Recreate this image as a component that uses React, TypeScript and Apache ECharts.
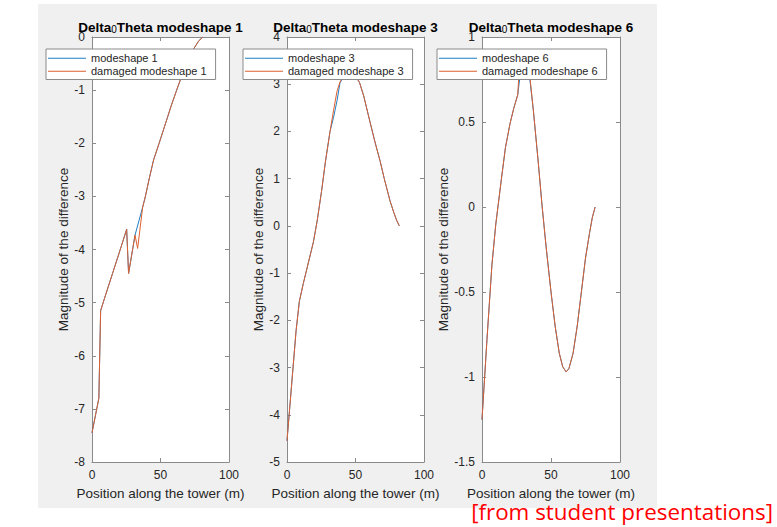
import React, { useEffect, useRef } from "react";
import * as echarts from "echarts";

// Panel 1: mode shape 1 difference
const ms1X = [0, 5, 6.3, 10, 15, 20, 25.3, 26.7, 31.4, 37, 38.7, 42, 45, 49, 52, 55, 58, 61.8, 65, 68.6, 72, 75, 78, 81];
const ms1Y = [-7.45, -6.8, -5.15, -4.85, -4.45, -4.05, -3.62, -4.45, -3.73, -3.2, -3.03, -2.64, -2.31, -2.0, -1.76, -1.52, -1.28, -1.0, -0.77, -0.52, -0.33, -0.19, -0.07, 0];
const dm1X = [0, 5, 6.3, 10, 15, 20, 25.3, 26.7, 31.4, 33.3, 37, 38.7, 42, 45, 49, 52, 55, 58, 61.8, 65, 68.6, 72, 75, 78, 81];
const dm1Y = [-7.45, -6.8, -5.15, -4.85, -4.45, -4.05, -3.62, -4.45, -3.73, -3.98, -3.2, -3.03, -2.64, -2.31, -2.0, -1.76, -1.52, -1.28, -1.0, -0.77, -0.52, -0.33, -0.19, -0.07, 0];

// Panel 2: mode shape 3 difference
const ms3X = [0, 6.6, 9, 11.9, 15, 19.2, 22, 25.3, 28, 31.4, 34, 36.5, 38.7, 42, 46, 50, 53, 56, 60.6, 64, 67.9, 71, 75.2, 78, 80, 82];
const ms3Y = [-4.55, -2.23, -1.6, -1.22, -0.85, -0.35, 0.1, 0.75, 1.35, 2.0, 2.3, 2.65, 3.03, 3.2, 3.27, 3.18, 3.03, 2.75, 2.2, 1.8, 1.38, 1.0, 0.53, 0.28, 0.12, 0.0];
const dm3X = [0, 6.6, 9, 11.9, 15, 19.2, 22, 25.3, 28, 31.4, 34, 36.5, 38.7, 42, 46, 50, 53, 56, 60.6, 64, 67.9, 71, 75.2, 78, 80, 82];
const dm3Y = [-4.55, -2.23, -1.6, -1.22, -0.85, -0.35, 0.1, 0.75, 1.35, 2.0, 2.45, 2.85, 3.05, 3.2, 3.27, 3.18, 3.03, 2.75, 2.2, 1.8, 1.38, 1.0, 0.53, 0.28, 0.12, 0.0];

// Panel 3: mode shape 6 difference
const ms6X = [0, 3.6, 7.2, 10, 14.3, 17, 20.3, 23, 25.9, 28, 30, 32, 34, 37.2, 40.8, 43.5, 46.4, 50, 53, 56, 58.5, 61, 63, 66, 69, 72, 75, 78, 80, 82];
const ms6Y = [-1.25, -0.78, -0.34, -0.1, 0.18, 0.35, 0.49, 0.58, 0.66, 0.8, 0.88, 0.88, 0.8, 0.57, 0.26, 0.01, -0.23, -0.5, -0.7, -0.86, -0.94, -0.97, -0.95, -0.86, -0.7, -0.5, -0.3, -0.15, -0.06, 0.0];
const dm6X = [0, 3.6, 7.2, 10, 14.3, 17, 20.3, 23, 25.9, 27, 30, 33, 34.5, 37.2, 40.8, 43.5, 46.4, 50, 53, 56, 58.5, 61, 63, 66, 69, 72, 75, 78, 80, 82];
const dm6Y = [-1.25, -0.78, -0.34, -0.1, 0.18, 0.35, 0.49, 0.58, 0.66, 0.82, 0.92, 0.9, 0.78, 0.57, 0.26, 0.01, -0.23, -0.5, -0.7, -0.86, -0.94, -0.97, -0.95, -0.86, -0.7, -0.5, -0.3, -0.15, -0.06, 0.0];

const modeNumbers = [1, 3, 6];
const yRanges = [
  { min: -8, max: 0, interval: 1 },
  { min: -5, max: 4, interval: 1 },
  { min: -1.5, max: 1, interval: 0.5 },
];
const xRange = { min: 0, max: 100, interval: 50 };

const xLabel = "Position along the tower (m)";
const yLabel = "Magnitude of the difference";
const note = "[from student presentations]";

const FONT = '"Liberation Sans", Helvetica, Arial, sans-serif';
const BLUE = "#1f7fc4";
const RED = "#de5f30";
const AXIS = "#8a8a8a";
const TEXT = "#262626";

const zip = (xs: number[], ys: number[]) => xs.map((x, i) => [x, ys[i]]);

const panelData = [
  { base: zip(ms1X, ms1Y), damaged: zip(dm1X, dm1Y) },
  { base: zip(ms3X, ms3Y), damaged: zip(dm3X, dm3Y) },
  { base: zip(ms6X, ms6Y), damaged: zip(dm6X, dm6Y) },
];

// layout of the three axes boxes
const gridLefts = [92, 287, 482];
const gridWidths = [137, 137, 138];
const gridTop = 37;
const gridHeight = 425;
const legendLefts = [46, 243, 437];
const yNameGaps = [21, 20, 28];

function buildOption() {
  const grid: any[] = [];
  const xAxis: any[] = [];
  const yAxis: any[] = [];
  const series: any[] = [];
  const legend: any[] = [];
  const graphic: any[] = [
    {
      type: "rect",
      z: -10,
      shape: { x: 38, y: 4, width: 619, height: 504 },
      style: { fill: "#f0f0f0" },
      silent: true,
    },
  ];

  const lineAxis = {
    show: true,
    onZero: false,
    lineStyle: { color: AXIS, width: 1 },
  };
  const tick = { show: true, inside: true, length: 4, lineStyle: { color: AXIS, width: 1 } };

  modeNumbers.forEach((m, i) => {
    grid.push({
      left: gridLefts[i],
      top: gridTop,
      width: gridWidths[i],
      height: gridHeight,
      show: true,
      backgroundColor: "#ffffff",
      borderWidth: 0,
    });
    const xr = xRange;
    const yr = yRanges[i];
    xAxis.push({
      type: "value",
      gridIndex: i,
      position: "bottom",
      min: xr.min,
      max: xr.max,
      interval: xr.interval,
      axisLine: lineAxis,
      axisTick: tick,
      splitLine: { show: false },
      axisLabel: { color: TEXT, fontSize: 12, fontFamily: FONT, margin: 7 },
      name: xLabel,
      nameLocation: "middle",
      nameGap: 24,
      nameTextStyle: { color: TEXT, fontSize: 13.5, fontFamily: FONT },
    });
    xAxis.push({
      type: "value",
      gridIndex: i,
      position: "top",
      min: xr.min,
      max: xr.max,
      interval: xr.interval,
      axisLine: lineAxis,
      axisTick: tick,
      splitLine: { show: false },
      axisLabel: { show: false },
    });
    yAxis.push({
      type: "value",
      gridIndex: i,
      position: "left",
      min: yr.min,
      max: yr.max,
      interval: yr.interval,
      axisLine: lineAxis,
      axisTick: tick,
      splitLine: { show: false },
      axisLabel: { color: TEXT, fontSize: 12, fontFamily: FONT, margin: 7 },
      name: yLabel,
      nameLocation: "middle",
      nameGap: yNameGaps[i],
      nameTextStyle: { color: TEXT, fontSize: 13.5, fontFamily: FONT },
    });
    yAxis.push({
      type: "value",
      gridIndex: i,
      position: "right",
      min: yr.min,
      max: yr.max,
      interval: yr.interval,
      axisLine: lineAxis,
      axisTick: tick,
      splitLine: { show: false },
      axisLabel: { show: false },
    });

    const baseName = `modeshape ${m}`;
    const dmgName = `damaged modeshape ${m}`;
    series.push({
      type: "line",
      name: baseName,
      xAxisIndex: 2 * i,
      yAxisIndex: 2 * i,
      data: panelData[i].base,
      symbol: "none",
      lineStyle: { color: BLUE, width: 1 },
      itemStyle: { color: BLUE },
      z: 2,
    });
    series.push({
      type: "line",
      name: dmgName,
      xAxisIndex: 2 * i,
      yAxisIndex: 2 * i,
      data: panelData[i].damaged,
      symbol: "none",
      lineStyle: { color: RED, width: 1 },
      itemStyle: { color: RED },
      z: 3,
    });

    legend.push({
      data: [baseName, dmgName],
      orient: "vertical",
      left: legendLefts[i],
      top: 49,
      backgroundColor: "#ffffff",
      borderColor: AXIS,
      borderWidth: 1,
      borderRadius: 0,
      padding: [3, 9, 2, 2],
      icon: "rect",
      itemWidth: 38,
      itemHeight: 1,
      itemGap: 0.5,
      textStyle: { color: TEXT, fontSize: 11, fontFamily: FONT, lineHeight: 12.5 },
      selectedMode: false,
      z: 10,
    });

    const cx = gridLefts[i] + gridWidths[i] / 2;
    graphic.push({
      type: "text",
      x: cx,
      y: 27,
      z: 20,
      style: {
        text: `{b|Delta}{s|0}{b|Theta modeshape ${m}}`,
        align: "center",
        verticalAlign: "middle",
        rich: {
          b: { fontFamily: FONT, fontSize: 13.5, fontWeight: "bold", fill: "#000000" },
          s: { fontFamily: FONT, fontSize: 10, fill: "#000000", verticalAlign: "bottom" },
        },
      },
    });
  });

  graphic.push({
    type: "text",
    x: 773,
    y: 511,
    z: 20,
    style: {
      text: note,
      align: "right",
      verticalAlign: "middle",
      fontFamily: '"Open Sans", "Noto Sans", sans-serif',
      fontSize: 22.4,
      fill: "#ff0000",
    },
  });

  return {
    animation: false,
    backgroundColor: "#ffffff",
    grid,
    xAxis,
    yAxis,
    series,
    legend,
    graphic,
  };
}

export default function App() {
  const ref = useRef<HTMLDivElement>(null);
  useEffect(() => {
    if (!ref.current) return;
    const chart = echarts.init(ref.current, undefined, { renderer: "svg" });
    chart.setOption(buildOption() as any);
    return () => chart.dispose();
  }, []);
  return (
    <div
      ref={ref}
      style={{ position: "fixed", left: 0, top: 0, width: 777, height: 527 }}
    />
  );
}
